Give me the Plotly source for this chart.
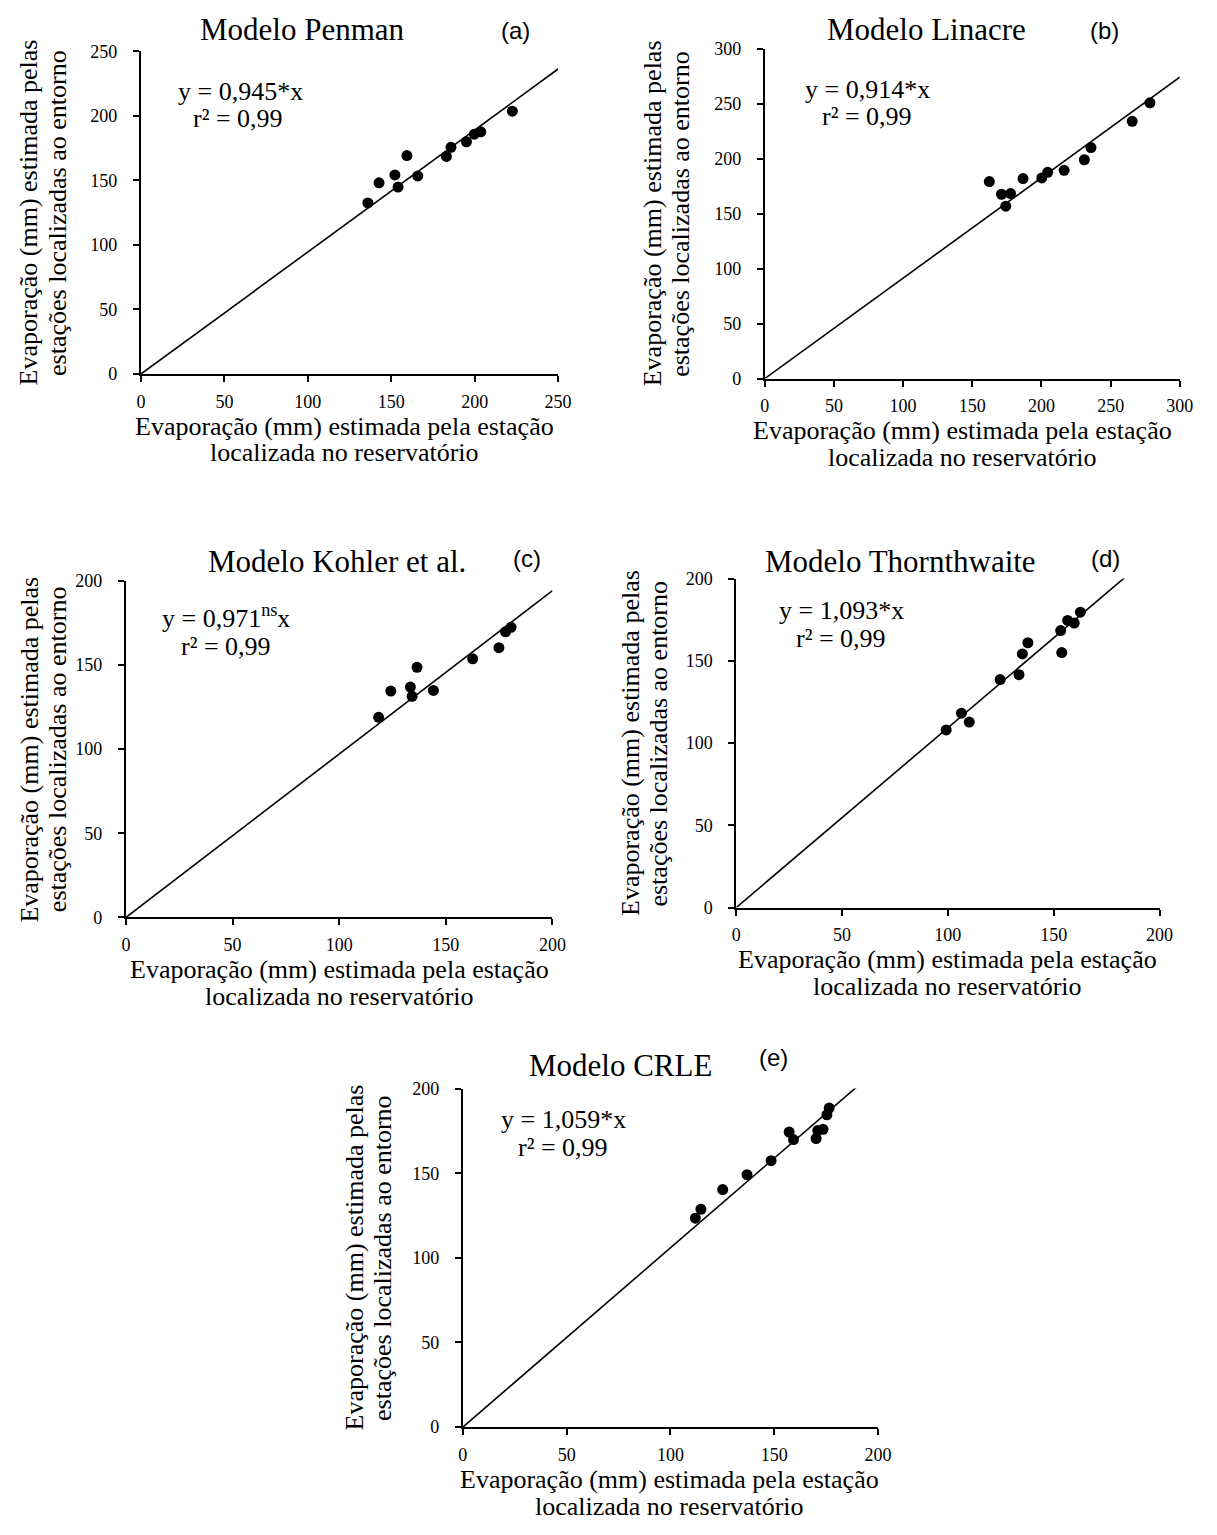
import plotly.graph_objects as go

W, H = 1217, 1535
OFF = 8  # default page margin of the html body

# ---------------- data ----------------
penman_x = [136.0, 142.7, 152.2, 154.1, 159.4, 165.9, 183.1, 185.8, 195.1, 199.8, 203.7, 222.6]
penman_y = [132.5, 148.1, 154.2, 144.8, 169.2, 153.4, 168.5, 175.6, 179.9, 185.8, 187.6, 203.6]
penman_slope = 0.945

linacre_x = [162.3, 171.1, 177.7, 174.2, 186.7, 200.2, 204.5, 216.4, 231.0, 235.8, 265.6, 278.4]
linacre_y = [179.3, 167.7, 168.3, 156.9, 182.0, 182.6, 187.7, 189.5, 199.1, 210.2, 234.1, 250.9]
linacre_slope = 0.914

kohler_x = [118.5, 124.2, 133.4, 134.2, 136.5, 144.2, 162.6, 174.9, 178.0, 180.6, 200.3]
kohler_y = [118.9, 134.5, 136.9, 131.4, 148.6, 134.9, 153.7, 160.3, 169.7, 172.4, 190.8]
kohler_slope = 0.971

thorn_x = [99.2, 106.4, 110.1, 124.7, 133.6, 135.2, 137.8, 153.3, 153.8, 156.6, 159.7, 162.6]
thorn_y = [108.0, 118.2, 112.8, 138.6, 141.6, 154.2, 161.0, 168.4, 155.0, 174.6, 173.0, 179.6]
thorn_slope = 1.093

crle_x = [112.0, 114.7, 125.2, 136.9, 148.5, 157.2, 159.3, 170.2, 171.0, 173.5, 175.4, 176.5]
crle_y = [123.4, 128.7, 140.3, 149.1, 157.4, 174.3, 169.9, 170.5, 175.3, 175.9, 184.5, 188.5]
crle_slope = 1.059

titles = ["Modelo Penman", "Modelo Linacre", "Modelo Kohler et al.", "Modelo Thornthwaite", "Modelo CRLE"]
letters = ["(a)", "(b)", "(c)", "(d)", "(e)"]
eq1 = ["y = 0,945*x", "y = 0,914*x", "y = 0,971<sup>ns</sup>x", "y = 1,093*x", "y = 1,059*x"]
eq2 = ["r² = 0,99"] * 5
axis_max = [250, 300, 200, 200, 200]
ytitle_l1 = "Evaporação (mm) estimada pelas"
ytitle_l2 = "estações localizadas ao entorno"
xtitle_l1 = "Evaporação (mm) estimada pela estação"
xtitle_l2 = "localizada no reservatório"

xs = [penman_x, linacre_x, kohler_x, thorn_x, crle_x]
ys = [penman_y, linacre_y, kohler_y, thorn_y, crle_y]
slopes = [penman_slope, linacre_slope, kohler_slope, thorn_slope, crle_slope]

# ---------------- layout geometry (pixels in the page) ----------------
boxes = [
    (138.0, 561.7, 41.7, 368.7),
    (771.7, 1193.3, 39.3, 373.3),
    (122.7, 556.0, 578.3, 919.3),
    (742.7, 1172.7, 576.0, 909.3),
    (465.0, 886.7, 1092.7, 1435.7),
]
title_pos = [(302, 20), (936, 20), (337, 559), (910, 559), (625, 1069)]
letter_pos = [(518, 21), (1117, 21), (530, 556), (1118, 556), (781, 1061)]
eq_pos = [(239, 82, 237, 110), (876, 80, 876, 108), (224, 614, 224, 645),
          (850, 608, 849, 637), (567, 1124, 567, 1152)]
ytitle_off = [(114, 85), (114, 85), (98, 70), (108, 79), (110, 81)]
xtitle_center = [345, 973, 340, 957, 675]
xtitle_gap = (53, 80)

SERIF = "Liberation Serif, Times New Roman, serif"
SANS = "Liberation Sans, Arial, sans-serif"


def px(x):
    return (x - OFF) / W


def py(y):
    return 1 - (y - OFF) / H


def note(text, x, y, size, family=SERIF, angle=0):
    return dict(text=text, x=px(x), y=py(y), xref="paper", yref="paper",
                xanchor="center", yanchor="middle", showarrow=False, textangle=angle,
                font=dict(family=family, size=size, color="black"))


fig = go.Figure()
annotations = []
layout_axes = {}

for i in range(5):
    n = i + 1
    xa = "x" if n == 1 else f"x{n}"
    ya = "y" if n == 1 else f"y{n}"
    m = axis_max[i]
    # regression line (through the origin)
    fig.add_trace(go.Scatter(
        x=[0, m], y=[0, slopes[i] * m], mode="lines",
        line=dict(color="black", width=1.6), xaxis=xa, yaxis=ya,
        showlegend=False, hoverinfo="skip"))
    # points
    fig.add_trace(go.Scatter(
        x=xs[i], y=ys[i], mode="markers",
        marker=dict(color="black", size=11), cliponaxis=False,
        xaxis=xa, yaxis=ya, showlegend=False))

    l, r, t, b = boxes[i]
    axcommon = dict(
        range=[0, m], dtick=50, tick0=0, showgrid=False, zeroline=False,
        showline=True, linecolor="black", linewidth=2,
        ticks="outside", ticklen=6, tickwidth=2, tickcolor="black",
        tickfont=dict(family=SERIF, size=18, color="black"),
        fixedrange=True,
    )
    xkey = "xaxis" if n == 1 else f"xaxis{n}"
    ykey = "yaxis" if n == 1 else f"yaxis{n}"
    layout_axes[xkey] = dict(axcommon, domain=[px(l), px(r)], anchor=ya, ticklabelstandoff=4)
    layout_axes[ykey] = dict(axcommon, domain=[py(b), py(t)], anchor=xa, ticklabelstandoff=12)

    tx, ty = title_pos[i]
    annotations.append(note(titles[i], tx, ty, 31))
    lx, ly = letter_pos[i]
    annotations.append(note(letters[i], lx, ly, 24, family=SANS))
    e1x, e1y, e2x, e2y = eq_pos[i]
    annotations.append(note(eq1[i], e1x, e1y, 26))
    annotations.append(note(eq2[i], e2x, e2y, 26))
    ymid = (t + b) / 2
    o1, o2 = ytitle_off[i]
    annotations.append(note(ytitle_l1, l - o1, ymid, 26, angle=-90))
    annotations.append(note(ytitle_l2, l - o2, ymid, 26, angle=-90))
    xx = xtitle_center[i]
    annotations.append(note(xtitle_l1, xx, b + xtitle_gap[0], 26))
    annotations.append(note(xtitle_l2, xx, b + xtitle_gap[1], 26))

fig.update_layout(
    width=W, height=H,
    margin=dict(l=0, r=0, t=0, b=0),
    paper_bgcolor="white", plot_bgcolor="white",
    annotations=annotations,
    **layout_axes,
)

fig.write_html("out.html")
